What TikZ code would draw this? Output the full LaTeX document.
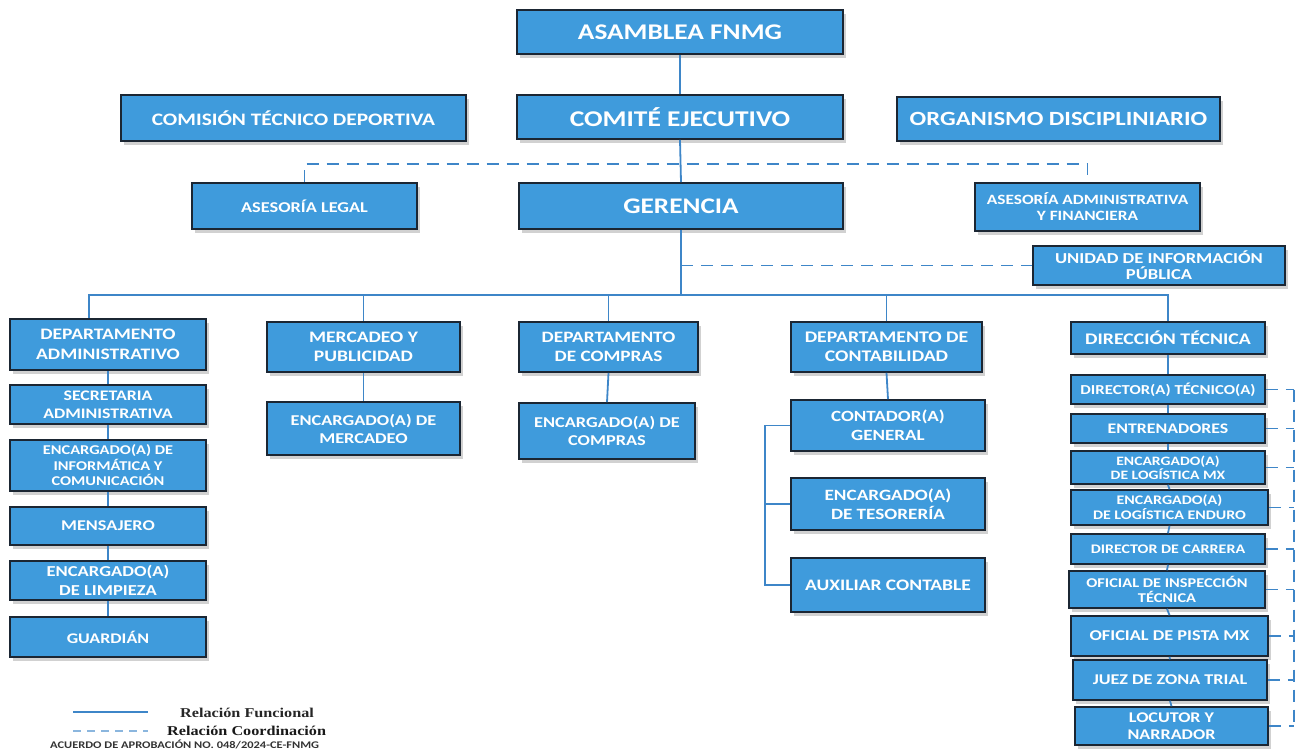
\documentclass[tikz,border=0pt]{standalone}
\usepackage{fontspec}
\setmainfont{Carlito}[FakeStretch=1.22]
\newfontfamily\legfont{Liberation Serif}[FakeStretch=1.2]
\usetikzlibrary{shadows}
\definecolor{boxblue}{HTML}{3F9BDC}
\definecolor{boxedge}{HTML}{1B2633}
\definecolor{lineblue}{HTML}{3E86C8}
\tikzset{
  orgbox/.style={draw=boxedge, line width=1.6pt, fill=boxblue, text=white,
    align=center, inner sep=0pt,
    drop shadow={shadow xshift=3pt, shadow yshift=-4pt, fill=black, opacity=0.18}},
  func/.style={draw=lineblue, line width=1.8pt},
  coord/.style={draw=lineblue, line width=1.8pt, dash pattern=on 12pt off 8pt},
}
% \bx{name}{x1}{y1}{x2}{y2}{size}{leading}{text}
\newcommand\bx[8]{%
  \node[orgbox, minimum width={#4-#2}, minimum height={#5-#3},
        font=\bfseries\fontsize{#6}{#7}\selectfont]
    (#1) at ({(#2+#4)/2},{(#3+#5)/2}) {#8};}
\begin{document}
\begin{tikzpicture}[x=1pt,y=-1pt]
\useasboundingbox (0,0) rectangle (1301,751);
% top level
\bx{asam}{517}{10}{843}{54}{22.4}{24}{ASAMBLEA FNMG}
\bx{comision}{121}{95}{466}{141}{17.5}{19}{COMISIÓN TÉCNICO DEPORTIVA}
\bx{comite}{517}{95}{843}{139}{22.5}{24}{COMITÉ EJECUTIVO}
\bx{organ}{897}{97}{1220}{141}{20.2}{22}{ORGANISMO DISCIPLINIARIO}
\bx{legal}{192}{183}{417}{229}{15}{17}{ASESORÍA LEGAL}
\bx{ger}{519}{183}{843}{229}{22.3}{24}{GERENCIA}
\bx{aaf}{975}{183}{1200}{231}{14.2}{16}{ASESORÍA ADMINISTRATIVA\\Y FINANCIERA}
\bx{uip}{1033}{246}{1285}{285}{15.2}{16}{UNIDAD DE INFORMACIÓN\\PÚBLICA}
% departments
\bx{dadm}{10}{319}{206}{370}{16}{20}{DEPARTAMENTO\\ADMINISTRATIVO}
\bx{mkt}{267}{322}{460}{372}{16}{19}{MERCADEO Y\\PUBLICIDAD}
\bx{comp}{519}{322}{698}{372}{15.8}{19}{DEPARTAMENTO\\DE COMPRAS}
\bx{cont}{791}{322}{982}{372}{16.2}{19}{DEPARTAMENTO DE\\CONTABILIDAD}
\bx{dtec}{1071}{322}{1265}{354}{16.2}{18}{DIRECCIÓN TÉCNICA}
% left column
\bx{secr}{10}{385}{206}{424}{14.6}{18}{SECRETARIA\\ADMINISTRATIVA}
\bx{info}{10}{440}{206}{491}{13.4}{15.5}{ENCARGADO(A) DE\\INFORMÁTICA Y\\COMUNICACIÓN}
\bx{mens}{10}{507}{206}{545}{14.9}{17}{MENSAJERO}
\bx{limp}{10}{561}{206}{600}{15.2}{18.5}{ENCARGADO(A)\\DE LIMPIEZA}
\bx{guard}{10}{617}{206}{657}{14.7}{17}{GUARDIÁN}
% mercadeo, compras
\bx{emkt}{267}{402}{460}{455}{15}{18}{ENCARGADO(A) DE\\MERCADEO}
\bx{ecomp}{519}{403}{695}{459}{15}{18}{ENCARGADO(A) DE\\COMPRAS}
% contabilidad
\bx{cgen}{791}{400}{985}{451}{15.6}{19}{CONTADOR(A)\\GENERAL}
\bx{teso}{791}{478}{985}{530}{15.7}{19}{ENCARGADO(A)\\DE TESORERÍA}
\bx{aux}{791}{558}{985}{612}{16}{18}{AUXILIAR CONTABLE}
% direccion tecnica column
\bx{dirt}{1071}{375}{1265}{404}{13.7}{16}{DIRECTOR(A) TÉCNICO(A)}
\bx{entr}{1071}{414}{1265}{443}{14.6}{16}{ENTRENADORES}
\bx{lmx}{1071}{451}{1265}{484}{12.8}{14}{ENCARGADO(A)\\DE LOGÍSTICA MX}
\bx{lend}{1071}{490}{1268}{525}{13.1}{15}{ENCARGADO(A)\\DE LOGÍSTICA ENDURO}
\bx{dcar}{1071}{534}{1265}{564}{13.1}{15}{DIRECTOR DE CARRERA}
\bx{insp}{1069}{571}{1265}{608}{13.4}{15.5}{OFICIAL DE INSPECCIÓN\\TÉCNICA}
\bx{pista}{1071}{616}{1268}{656}{15}{17}{OFICIAL DE PISTA MX}
\bx{juez}{1073}{660}{1267}{700}{14.9}{17}{JUEZ DE ZONA TRIAL}
\bx{loc}{1075}{707}{1268}{745}{14.8}{17}{LOCUTOR Y\\NARRADOR}
% coordinates
\coordinate (bus) at (681,295);
\coordinate (rx) at (1294,0);
% functional connectors
\draw[func] (asam.south) -- (comite.north);
\draw[func] (comite.south) -- (ger.north);
\draw[func] (ger.south) -- (ger.south |- bus);
\draw[func] ([xshift=-19pt]dadm.north) |- (bus) -| (dtec.north);
\draw[func] (mkt.north) -- (mkt.north |- bus);
\draw[func] (comp.north) -- (comp.north |- bus);
\draw[func] (cont.north) -- (cont.north |- bus);
\draw[func] (dadm.south) -- (secr.north);
\draw[func] (secr.south) -- (info.north);
\draw[func] (info.south) -- (mens.north);
\draw[func] (mens.south) -- (limp.north);
\draw[func] (limp.south) -- (guard.north);
\draw[func] (mkt.south) -- (emkt.north);
\draw[func] (comp.south) -- (ecomp.north);
\draw[func] (cont.south) -- (cgen.north);
\draw[func] (cgen.west) -- ++(-25,0) |- (aux.west);
\draw[func] (teso.west) -- ++(-25,0);
\draw[func] (dtec.south) -- (dirt.north);
\draw[func] (dirt.south) -- (entr.north);
\draw[func] (entr.south) -- (lmx.north);
\draw[func] (lmx.south) -- (lend.north);
\draw[func] (lend.south) -- (dcar.north);
\draw[func] (dcar.south) -- (insp.north);
\draw[func] (insp.south) -- (pista.north);
\draw[func] (pista.south) -- (juez.north);
\draw[func] (juez.south) -- (loc.north);
% coordination connectors
\draw[coord] (legal.north) -- ++(0,-18) -| (aaf.north);
\draw[coord] (ger.south |- uip.west) -- (uip.west);
\draw[coord] (dirt.east -| rx) -- (loc.east -| rx);
\foreach \b in {dirt,entr,lmx,lend,dcar,insp,pista,juez,loc}
  \draw[coord] (\b.east) -- (\b.east -| rx);
% legend
\coordinate (la1) at (73,712); \coordinate (la2) at (148,712);
\coordinate (lb1) at (73,731); \coordinate (lb2) at (148,731);
\draw[draw=lineblue, line width=1.5pt] (la1) -- (la2);
\draw[draw=lineblue!60, line width=1.5pt, dash pattern=on 8pt off 6pt] (lb1) -- (lb2);
\node[anchor=west, inner sep=0pt, font=\legfont\bfseries\fontsize{13.5}{14}\selectfont, text=black!85] (lf) at (180,713) {Relación Funcional};
\node[anchor=west, inner sep=0pt, font=\legfont\bfseries\fontsize{13.5}{14}\selectfont, text=black!90] (lc) at (167,731) {Relación Coordinación};
\node[anchor=west, inner sep=0pt, font=\bfseries\fontsize{10.2}{11}\selectfont, text=black!80] (acu) at (50,744) {ACUERDO DE APROBACIÓN NO. 048/2024-CE-FNMG};
\end{tikzpicture}
\end{document}
